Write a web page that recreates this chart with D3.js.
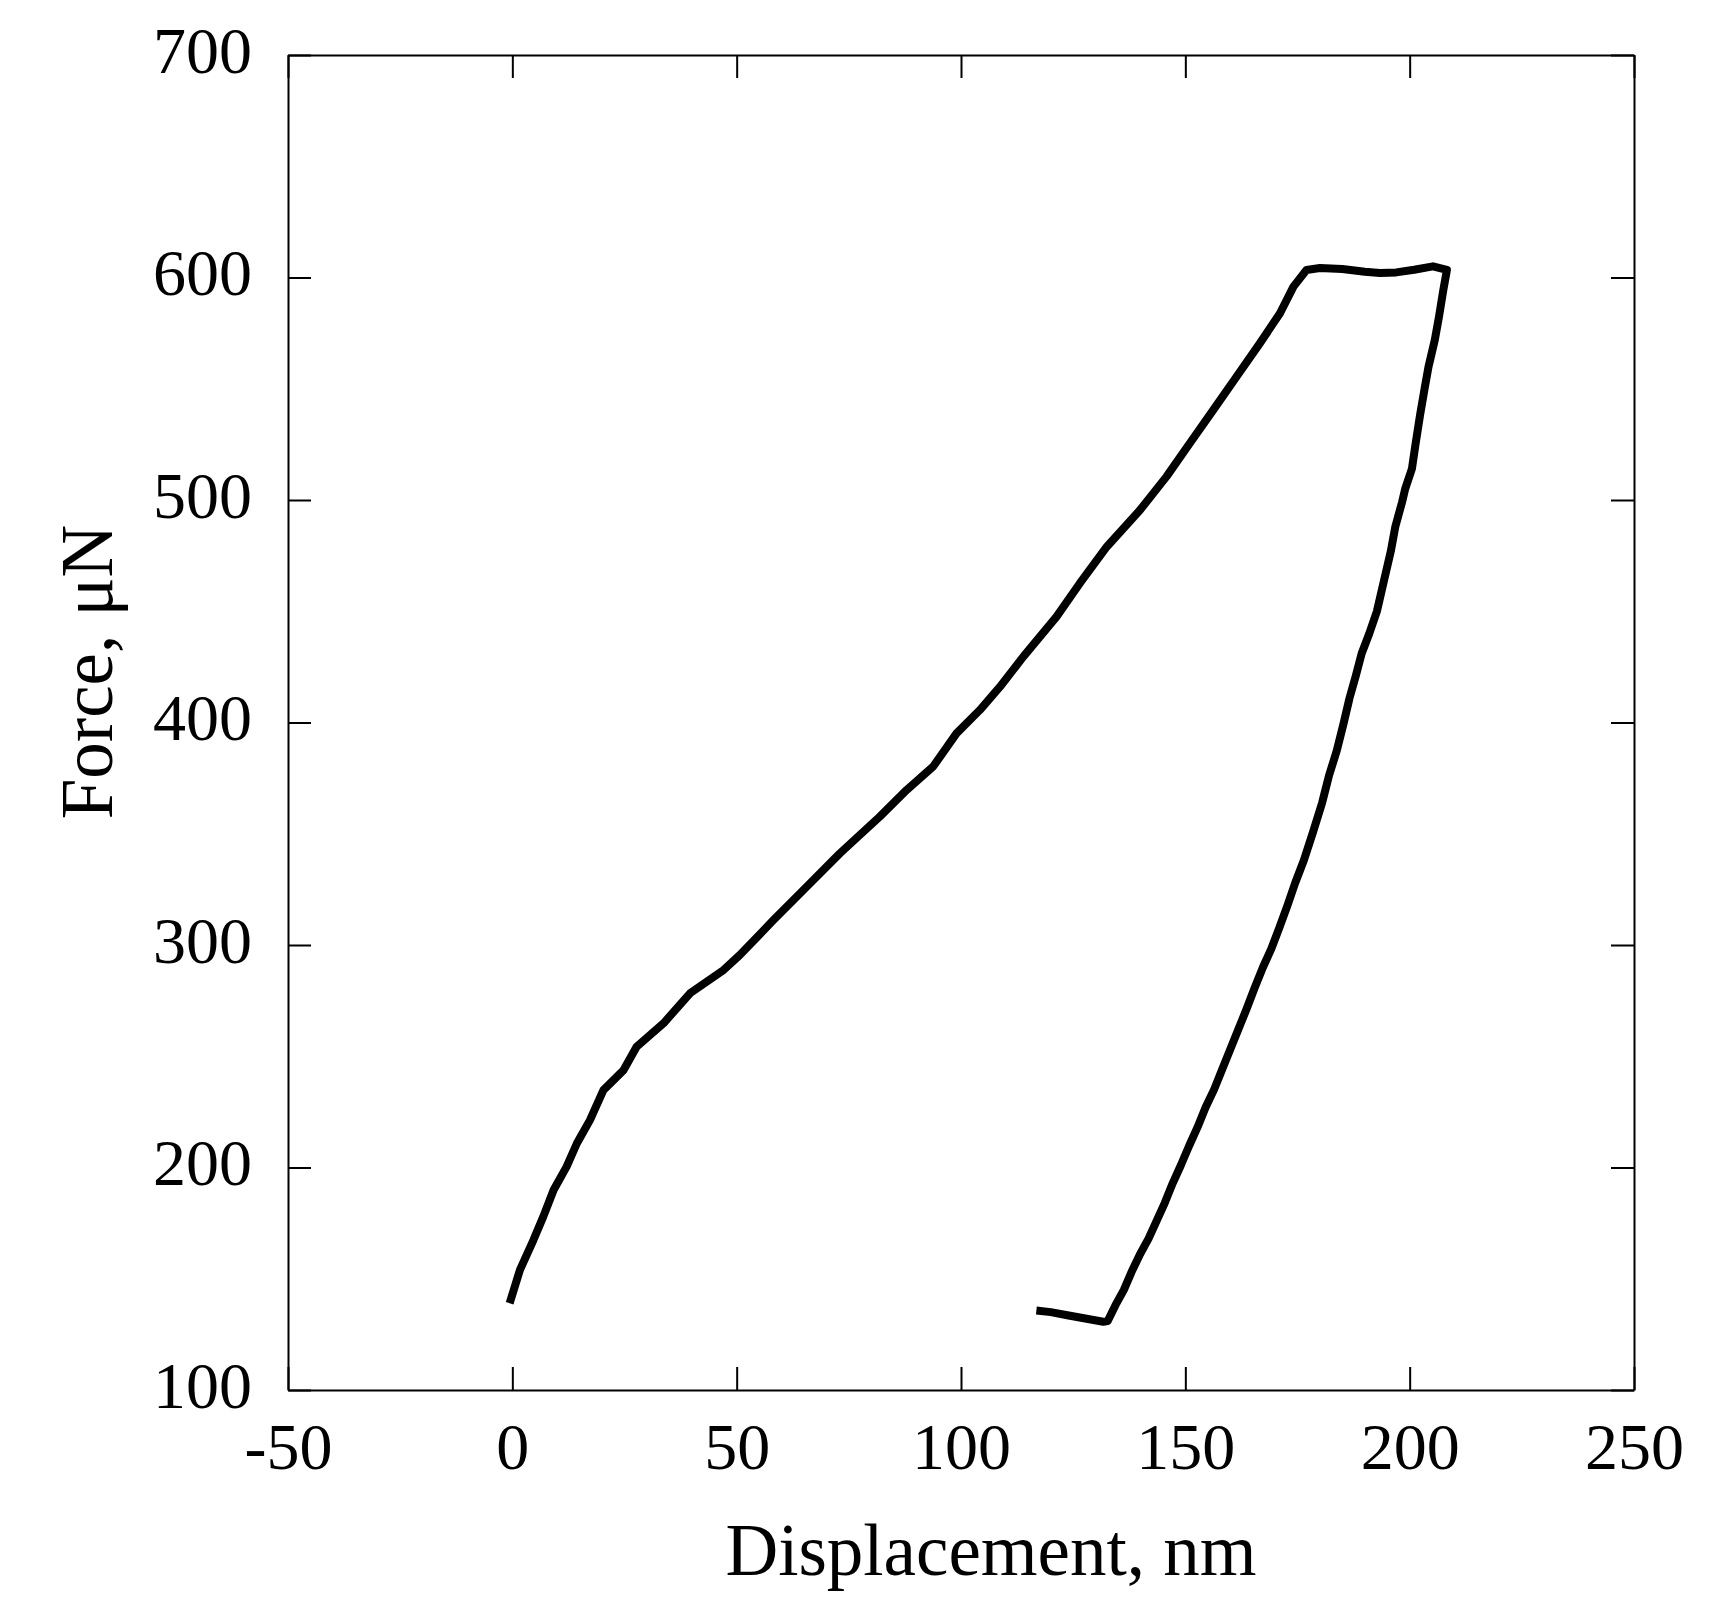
<!DOCTYPE html>
<html>
<head>
<meta charset="utf-8">
<script src="https://cdn.jsdelivr.net/npm/d3@7"></script>
<style>
  body { margin: 0; background: #fff; }
  svg text { font-family: "Liberation Serif", "Times New Roman", serif; fill: #000; }
</style>
</head>
<body>
<svg id="chart"></svg>
<script>
// loading branch (displacement nm, force uN)
var loadDisp  = [-0.6, 1.7, 4.7, 6.9, 9.2, 12.1, 14.4, 17.3, 20.3, 24.8, 27.7, 33.7, 39.6, 47.1, 50.7,
                 58.2, 65.6, 73, 81.9, 87.9, 93.8, 99, 104.2, 108.7, 113.9, 121.3, 126.5, 132.5, 139.9,
                 145.8, 151, 156.2, 161.4, 166.6, 171.1, 174.1, 177];
var loadForce = [139, 154, 167.4, 177.9, 189.9, 200.4, 210.9, 221.3, 234.8, 243.8, 254.3, 264.8, 278.3, 288.8, 295.5,
                 311.2, 326.2, 341.2, 357.7, 369.7, 380.2, 395.1, 405.6, 416.1, 429.6, 447.6, 462.6, 479, 495.5,
                 510.5, 525.5, 540.4, 555.4, 570.4, 583.9, 595.9, 603.4];

// hold at peak load
var holdDisp  = [180, 185, 190, 193.4, 197, 201, 205.2, 208.3];
var holdForce = [604.3, 603.8, 602.6, 602, 602.3, 603.5, 605, 603.4];

// unloading branch
var unloadDisp  = [207.5, 206.5, 205.6, 204.2, 203.4, 202.3, 201.3, 200.5, 199, 198.3, 196.8, 195.8, 194.3, 192.7,
                   191, 189.3, 188, 186.6, 185.2, 183.7, 182, 180.5, 178.5, 176.4, 174.5, 172.8, 171, 169.1,
                   167.3, 165.5, 163.6, 161.8, 160, 158.2, 156.4, 154.5, 152.7, 150.9, 149, 147.2, 145.4,
                   143.6, 141.8, 139.9, 138, 136.3, 134.4, 132.7, 131.7, 128, 124, 120, 116.8];
var unloadForce = [594.4, 582, 571.9, 559.9, 550.9, 538, 525, 514, 505, 499, 488, 477, 464, 450,
                   440, 431, 421, 411, 399, 387, 376, 364, 351, 338, 328, 318, 308, 298,
                   290, 281, 271, 262, 253, 244, 235, 227, 218, 210, 201, 193, 184,
                   176, 168, 161, 153, 145, 138, 131, 130.7, 132, 133.5, 135, 135.7];

var xTicks = [-50, 0, 50, 100, 150, 200, 250];
var yTicks = [100, 200, 300, 400, 500, 600, 700];

var svgWidth = 1709, svgHeight = 1609;
var margin = { top: 55, right: 75, bottom: 219, left: 288 };
var innerWidth  = svgWidth  - margin.left - margin.right;
var innerHeight = svgHeight - margin.top  - margin.bottom;
var tickLen = 23;

var svg = d3.select('#chart')
    .attr('width', svgWidth)
    .attr('height', svgHeight);

var xScale = d3.scaleLinear().domain([-50, 250]).range([0, innerWidth]);
var yScale = d3.scaleLinear().domain([100, 700]).range([innerHeight, 0]);

var g = svg.append('g')
    .attr('transform', `translate(${margin.left},${margin.top})`);

// plain hyphen for negatives, like the original
var fmt = function (d) { return String(d); };

// bottom and left axes carry the labels, ticks point inward
var xAxis = d3.axisBottom(xScale).tickValues(xTicks).tickFormat(fmt)
    .tickSizeInner(-tickLen).tickSizeOuter(0).tickPadding(32);
var yAxis = d3.axisLeft(yScale).tickValues(yTicks).tickFormat(fmt)
    .tickSizeInner(-tickLen).tickSizeOuter(0).tickPadding(36);

// top and right only show the frame and ticks
var xTop = d3.axisTop(xScale).tickValues(xTicks).tickFormat('')
    .tickSizeInner(-tickLen).tickSizeOuter(0);
var yRight = d3.axisRight(yScale).tickValues(yTicks).tickFormat('')
    .tickSizeInner(-tickLen).tickSizeOuter(0);

g.append('g').attr('class', 'x-axis').attr('transform', `translate(0,${innerHeight})`).call(xAxis);
g.append('g').attr('class', 'y-axis').call(yAxis);
g.append('g').attr('class', 'x-top').call(xTop);
g.append('g').attr('class', 'y-right').attr('transform', `translate(${innerWidth},0)`).call(yRight);

// the frame axes have no labels, drop their empty text nodes
g.selectAll('.x-top text, .y-right text').remove();

g.selectAll('.x-axis, .y-axis, .x-top, .y-right')
    .attr('font-size', 66)
    .attr('font-family', '"Liberation Serif", serif');

g.selectAll('.domain, .tick line')
    .attr('stroke', '#000')
    .attr('stroke-width', 2);

g.selectAll('.y-axis text')
    .attr('dy', '0.26em');

// axis titles
svg.append('text')
    .attr('x', 991)
    .attr('y', 1575)
    .attr('text-anchor', 'middle')
    .style('font-size', '73px')
    .text('Displacement, nm');

svg.append('text')
    .attr('transform', 'translate(112,672) rotate(-90)')
    .attr('text-anchor', 'middle')
    .style('font-size', '73px')
    .text('Force, \u03bcN');

// one continuous load-hold-unload curve
var pts = [];
loadDisp.forEach(function (d, i) { pts.push([d, loadForce[i]]); });
holdDisp.forEach(function (d, i) { pts.push([d, holdForce[i]]); });
unloadDisp.forEach(function (d, i) { pts.push([d, unloadForce[i]]); });

var line = d3.line()
    .x(function (d) { return xScale(d[0]); })
    .y(function (d) { return yScale(d[1]); });

g.append('path')
    .datum(pts)
    .attr('d', line)
    .attr('fill', 'none')
    .attr('stroke', '#000')
    .attr('stroke-width', 8)
    .attr('stroke-linejoin', 'round')
    .attr('stroke-linecap', 'butt');
</script>
</body>
</html>
